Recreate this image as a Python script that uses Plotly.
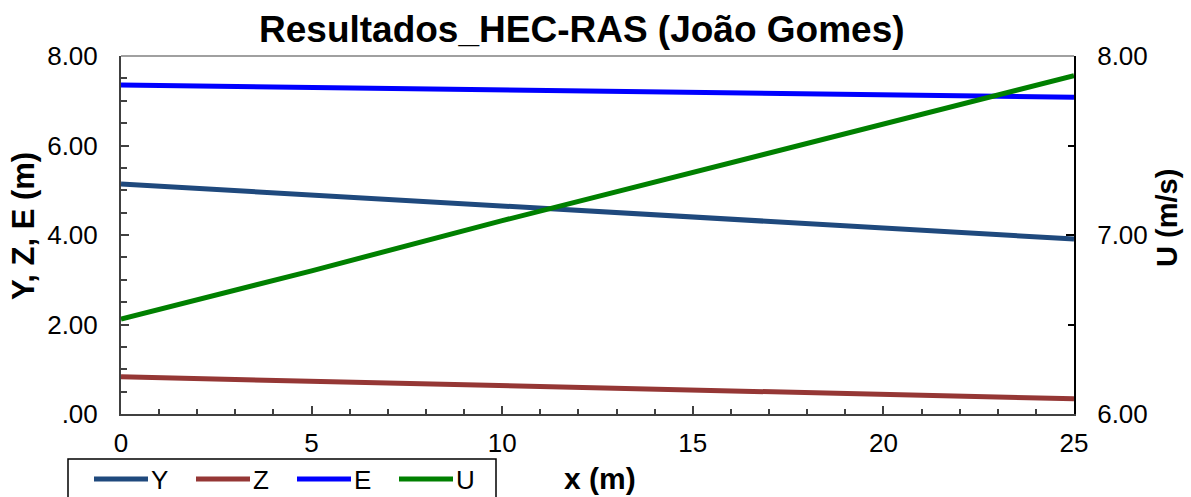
import plotly.graph_objects as go

# Stations along the channel (m)
x_m = [0, 5, 10, 15, 20, 25]

# HEC-RAS results per station
y_depth = [5.14, 4.89, 4.64, 4.40, 4.15, 3.91]     # Y (m)
z_bed = [0.83, 0.73, 0.63, 0.54, 0.44, 0.34]       # Z (m)
e_energy = [7.35, 7.30, 7.24, 7.19, 7.13, 7.08]    # E (m)
u_vel = [6.53, 6.80, 7.08, 7.35, 7.62, 7.89]       # U (m/s)

series_names = ["Y", "Z", "E", "U"]
series_colors = ["#1F497D", "#953735", "#0000FF", "#008000"]

left_tickvals = [0, 2, 4, 6, 8]
left_ticktext = [".00", "2.00", "4.00", "6.00", "8.00"]
right_tickvals = [6, 7, 8]
right_ticktext = ["6.00", "7.00", "8.00"]

W, H = 1191, 497
L, R, T, B = 121, 117, 56, 83
plot_w = W - L - R
plot_h = H - T - B

FONT = "Liberation Sans, Arial, sans-serif"
LW = 5
TICK_SIZE = 26

fig = go.Figure()
for name, vals, col in zip(series_names[:3], [y_depth, z_bed, e_energy], series_colors[:3]):
    fig.add_trace(go.Scatter(x=x_m, y=vals, mode="lines", name=name,
                             line=dict(color=col, width=LW), showlegend=False))
fig.add_trace(go.Scatter(x=x_m, y=u_vel, mode="lines", name=series_names[3],
                         line=dict(color=series_colors[3], width=LW),
                         yaxis="y2", showlegend=False))


def px_x(px):
    return (px - L) / plot_w


def px_y(py):
    return (H - B - py) / plot_h


shapes = [
    # top frame line
    dict(type="line", xref="paper", yref="paper", x0=0, x1=1, y0=1, y1=1,
         line=dict(color="#A0A0A0", width=2)),
    # legend box
    dict(type="rect", xref="paper", yref="paper",
         x0=px_x(68), x1=px_x(496), y0=px_y(459), y1=px_y(505),
         line=dict(color="black", width=1.5), fillcolor="white", layer="above"),
]
annotations = [
    dict(text="<b>Resultados_HEC-RAS (João Gomes)</b>", xref="paper", yref="paper",
         x=px_x(582), y=px_y(29), showarrow=False, xanchor="center", yanchor="middle",
         font=dict(family=FONT, size=37, color="black")),
    dict(text="<b>Y, Z, E (m)</b>", xref="paper", yref="paper",
         x=px_x(23), y=px_y(226), showarrow=False, textangle=-90,
         xanchor="center", yanchor="middle",
         font=dict(family=FONT, size=31, color="black")),
    dict(text="<b>U (m/s)</b>", xref="paper", yref="paper",
         x=px_x(1167), y=px_y(218), showarrow=False, textangle=-90,
         xanchor="center", yanchor="middle",
         font=dict(family=FONT, size=29, color="black")),
    dict(text="<b>x (m)</b>", xref="paper", yref="paper",
         x=px_x(600), y=px_y(478), showarrow=False,
         xanchor="center", yanchor="middle",
         font=dict(family=FONT, size=30, color="black")),
]

# legend entries
leg_x0 = [94, 196, 297, 399]
for name, col, lx in zip(series_names, series_colors, leg_x0):
    shapes.append(dict(type="line", xref="paper", yref="paper",
                       x0=px_x(lx), x1=px_x(lx + 54), y0=px_y(479), y1=px_y(479),
                       line=dict(color=col, width=LW), layer="above"))
    annotations.append(dict(text=name, xref="paper", yref="paper",
                            x=px_x(lx + 55), y=px_y(480), showarrow=False,
                            xanchor="left", yanchor="middle",
                            font=dict(family=FONT, size=TICK_SIZE, color="black")))

fig.update_layout(
    width=W, height=H,
    margin=dict(l=L, r=R, t=T, b=B, pad=0),
    paper_bgcolor="white", plot_bgcolor="white",
    font=dict(family=FONT, size=TICK_SIZE, color="black"),
    shapes=shapes, annotations=annotations,
    xaxis=dict(range=[0, 25], dtick=5, tick0=0, showgrid=False, zeroline=False,
               showline=True, linecolor="#404040", linewidth=2,
               ticks="inside", ticklen=8, tickwidth=1.5, tickcolor="#404040",
               minor=dict(dtick=1, ticks="inside", ticklen=5, tickcolor="#404040",
                          showgrid=False),
               tickfont=dict(family=FONT, size=TICK_SIZE), ticklabelstandoff=5),
    yaxis=dict(range=[0, 8], tickvals=left_tickvals, ticktext=left_ticktext,
               showgrid=False, zeroline=False,
               showline=True, linecolor="#404040", linewidth=2,
               ticks="inside", ticklen=8, tickwidth=1.5, tickcolor="#404040",
               minor=dict(dtick=0.5, ticks="inside", ticklen=6, tickcolor="#404040",
                          showgrid=False),
               tickfont=dict(family=FONT, size=TICK_SIZE), ticklabelstandoff=16),
    yaxis2=dict(range=[6, 8], tickvals=right_tickvals, ticktext=right_ticktext,
                overlaying="y", side="right", showgrid=False, zeroline=False,
                showline=True, linecolor="black", linewidth=2,
                ticks="inside", ticklen=8, tickwidth=1.5, tickcolor="black",
                minor=dict(dtick=0.5, ticks="inside", ticklen=6, tickcolor="black",
                           showgrid=False),
                tickfont=dict(family=FONT, size=TICK_SIZE), ticklabelstandoff=16),
)

fig.write_html("out.html")
